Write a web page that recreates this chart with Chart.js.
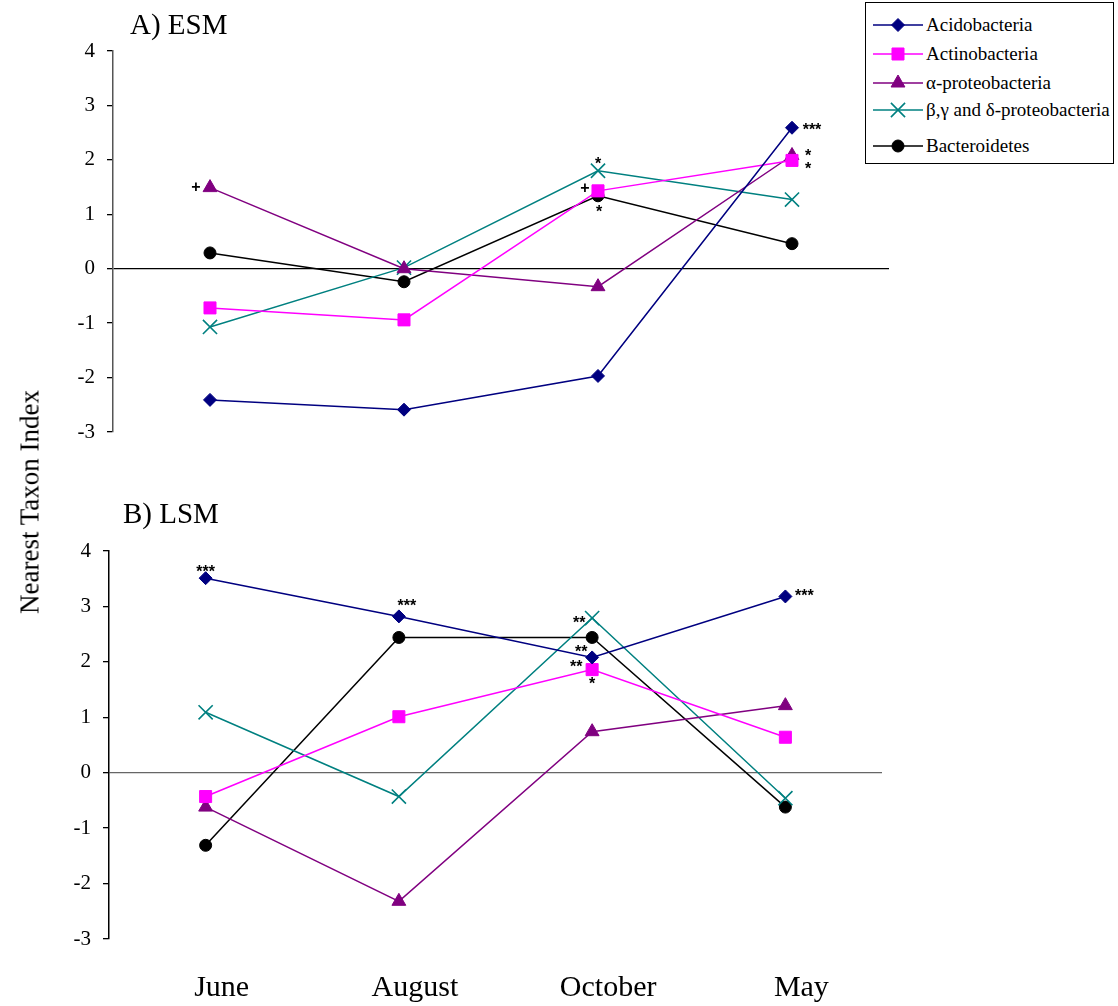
<!DOCTYPE html>
<html><head><meta charset="utf-8">
<script src="https://cdn.jsdelivr.net/npm/chart.js@4.4.1/dist/chart.umd.min.js"></script>
<style>
html,body{margin:0;padding:0;background:#fff;width:1118px;height:1006px;overflow:hidden;}
#wrap{position:relative;width:1118px;height:1006px;font-family:'Liberation Serif','Times New Roman',serif;color:#000;}
#topC{position:absolute;left:0;top:0;}
#botC{position:absolute;left:0;top:480px;}
#ytitle{position:absolute;left:30px;top:502px;transform:translate(-50%,-50%) rotate(-90deg);font-size:27px;white-space:nowrap;line-height:1;}
#legend{position:absolute;left:865px;top:2px;width:247px;height:160px;border:1px solid #000;background:#fff;}
#legend canvas{position:absolute;left:7px;}
#legend span{position:absolute;left:60px;font-family:'Liberation Serif','Times New Roman',serif;font-size:19px;line-height:24px;white-space:nowrap;}
</style>
</head><body>
<div id="wrap">
  <canvas id="topC" width="1118" height="460"></canvas>
  <canvas id="botC" width="1118" height="526"></canvas>
  <div id="ytitle">Nearest Taxon Index</div>
  <div id="legend"></div>
</div>
<script>
// ---- data ----
const months = ['June', 'August', 'October', 'May'];
const seriesNames = ['Acidobacteria', 'Actinobacteria', 'α-proteobacteria', 'β,γ and δ-proteobacteria', 'Bacteroidetes'];
const yTicks = [-3, -2, -1, 0, 1, 2, 3, 4];

// A) ESM
const esmAcido  = [-2.41, -2.59, -1.97, 2.59];
const esmActino = [-0.72, -0.94, 1.43, 1.99];
const esmAlpha  = [1.49, 0.00, -0.33, 2.08];
const esmBGD    = [-1.07, 0.02, 1.80, 1.27];
const esmBact   = [0.29, -0.24, 1.34, 0.46];

// B) LSM
const lsmAcido  = [3.51, 2.82, 2.08, 3.18];
const lsmActino = [-0.43, 1.01, 1.86, 0.64];
const lsmAlpha  = [-0.62, -2.32, 0.74, 1.21];
const lsmBGD    = [1.09, -0.43, 2.79, -0.46];
const lsmBact   = [-1.31, 2.44, 2.44, -0.62];

// significance marks: [series index, month index, text]
const esmSig = [[2,0,'+'],[3,2,'*'],[1,2,'+'],[4,2,'*'],[0,3,'***'],[2,3,'*'],[1,3,'*']];
const lsmSig = [[0,0,'***'],[0,1,'***'],[3,2,'**'],[4,2,'**'],[0,2,'**'],[1,2,'*'],[0,3,'***']];

// ---- styles ----
const seriesColors = ['#000080', '#FF00FF', '#800080', '#008080', '#000000'];
const seriesMarkers = ['rectRot', 'rect', 'triangle', 'crossRot', 'circle'];
const markerRadius = [6.5, 8.5, 8, 10, 6];
// label offsets (dx, dy) relative to the marked point, same order as the sig arrays
const esmSigOffsets = [[-14,0],[0,-11],[-13,-2],[1,12],[20,-2],[16,-4],[16,4]];
const lsmSigOffsets = [[0,-11],[8,-15],[-13,1],[-11,10],[-16,5],[0,10],[19,-5]];
const SERIF = "'Liberation Serif', 'Times New Roman', serif";

function buildDatasets(vals) {
  return vals.map((v, k) => ({
    label: seriesNames[k], data: v,
    borderColor: seriesColors[k], backgroundColor: seriesColors[k],
    pointStyle: seriesMarkers[k], pointRadius: markerRadius[k], pointHoverRadius: markerRadius[k],
    pointBorderColor: seriesColors[k], pointBackgroundColor: seriesColors[k],
    pointBorderWidth: k === 3 ? 1.6 : 1, borderWidth: 1.5, tension: 0, fill: false
  }));
}

function sigPlugin(marks, offsets) {
  return {
    id: 'sig',
    afterDatasetsDraw(chart) {
      const ctx = chart.ctx;
      ctx.save();
      ctx.font = "bold 16px 'Liberation Sans', Arial, sans-serif";
      ctx.fillStyle = '#000'; ctx.textAlign = 'center'; ctx.textBaseline = 'middle';
      marks.forEach((m, j) => {
        const el = chart.getDatasetMeta(m[0]).data[m[1]];
        const adj = m[2].indexOf('*') >= 0 ? 5 : 0;
        ctx.fillText(m[2], el.x + offsets[j][0], el.y + offsets[j][1] + adj);
      });
      ctx.restore();
    }
  };
}

function titlePlugin(text, x, y) {
  return {
    id: 'ptitle',
    afterDraw(chart) {
      const ctx = chart.ctx;
      ctx.save();
      ctx.font = '29px ' + SERIF;
      ctx.fillStyle = '#000'; ctx.textAlign = 'left'; ctx.textBaseline = 'alphabetic';
      ctx.fillText(text, x, y);
      ctx.restore();
    }
  };
}

function yScale(width, borderColor, zeroColor) {
  return {
    type: 'linear', min: -3, max: 4,
    afterBuildTicks: s => { s.ticks = yTicks.map(v => ({ value: v })); },
    afterFit: s => { s.width = width; },
    ticks: { font: { family: SERIF, size: 21 }, color: '#000', padding: 12 },
    grid: {
      color: c => (c.tick && c.tick.value === 0) ? zeroColor : 'rgba(0,0,0,0)',
      lineWidth: 1.3, tickColor: '#000', tickLength: 6, drawTicks: true
    },
    border: { color: borderColor, width: 1.5 }
  };
}

const common = {
  responsive: false, animation: false, devicePixelRatio: 1,
  plugins: { legend: { display: false }, tooltip: { enabled: false } },
  events: []
};

new Chart(document.getElementById('topC'), {
  type: 'line',
  data: { labels: months, datasets: buildDatasets([esmAcido, esmActino, esmAlpha, esmBGD, esmBact]) },
  options: Object.assign({}, common, {
    layout: { padding: { top: 51, bottom: 28, left: 0, right: 229 } },
    scales: {
      x: { type: 'category', offset: true, display: false },
      y: yScale(113, '#555555', '#000000')
    }
  }),
  plugins: [sigPlugin(esmSig, esmSigOffsets), titlePlugin('A) ESM', 130, 34)]
});

new Chart(document.getElementById('botC'), {
  type: 'line',
  data: { labels: months, datasets: buildDatasets([lsmAcido, lsmActino, lsmAlpha, lsmBGD, lsmBact]) },
  options: Object.assign({}, common, {
    layout: { padding: { top: 71, bottom: 0, left: 0, right: 236 } },
    scales: {
      x: {
        type: 'category', offset: true,
        grid: { display: false }, border: { display: false },
        afterFit: s => { s.height = 67; },
        ticks: { font: { family: SERIF, size: 30 }, color: '#000', padding: 23, labelOffset: 16, maxRotation: 0, autoSkip: false }
      },
      y: yScale(109, '#000000', '#666666')
    }
  }),
  plugins: [sigPlugin(lsmSig, lsmSigOffsets), titlePlugin('B) LSM', 123, 43)]
});

// ---- legend (markers drawn with Chart.js point helper) ----
const legendRowY = [22, 51, 80, 107, 143];
const legend = document.getElementById('legend');
seriesNames.forEach((name, k) => {
  const c = document.createElement('canvas');
  c.width = 52; c.height = 24;
  c.style.top = (legendRowY[k] - 12) + 'px';
  legend.appendChild(c);
  const ctx = c.getContext('2d');
  ctx.strokeStyle = seriesColors[k]; ctx.lineWidth = 1.5;
  ctx.beginPath(); ctx.moveTo(0, 12); ctx.lineTo(50, 12); ctx.stroke();
  ctx.fillStyle = seriesColors[k];
  ctx.strokeStyle = seriesColors[k];
  ctx.lineWidth = k === 3 ? 1.6 : 1;
  const h = Chart.helpers;
  if (h && h.drawPoint) {
    h.drawPoint(ctx, { pointStyle: seriesMarkers[k], radius: markerRadius[k], borderWidth: ctx.lineWidth, rotation: 0 }, 25, 12);
  } else {
    ctx.beginPath(); ctx.arc(25, 12, 6, 0, Math.PI * 2); ctx.fill();
  }
  const s = document.createElement('span');
  s.textContent = name;
  s.style.top = (legendRowY[k] - 12) + 'px';
  legend.appendChild(s);
});
</script>
</body></html>
